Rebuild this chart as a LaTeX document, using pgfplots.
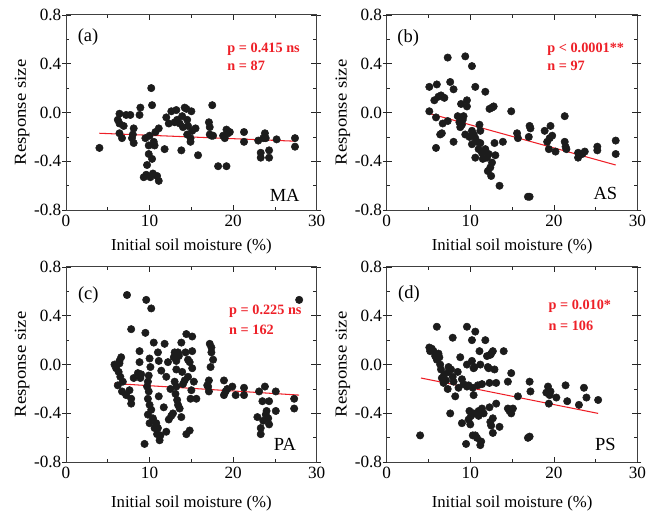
\documentclass[border=0pt]{standalone}
\usepackage{fontspec}
\setmainfont{Liberation Serif}
\usepackage{graphicx}
\usepackage{pgfplots}
\pgfplotsset{compat=1.18}
\definecolor{rred}{RGB}{238,32,40}
\definecolor{dot}{RGB}{28,28,28}
\pgfplotsset{
  panel/.style={
    scale only axis, width=190pt, height=148pt,
    xmin=0, xmax=30, ymin=-0.8, ymax=0.8,
    xtick={0,10,20,30}, minor xtick={5,15,25},
    ytick={-0.8,-0.4,0,0.4,0.8}, minor ytick={-0.6,-0.2,0.2,0.6},
    extra y ticks={-0.8,-0.4,0,0.4,0.8}, extra y tick labels={},
    extra y tick style={tick align=outside, major tick length=3pt},
    tick align=inside, major tick length=4pt, minor tick length=2.5pt,
    tick style={black!85, line width=0.5pt},
    axis line style={line width=0.7pt, black!75},
    /pgf/number format/assume math mode=true,
    yticklabel style={/pgf/number format/.cd, fixed, zerofill, precision=1},
    ticklabel style={font=\fontsize{13}{15}\selectfont},
    xlabel={Initial soil moisture (\%)},
    ylabel={\scalebox{1.12}[1]{Response size}},
    label style={font=\fontsize{12.7}{14}\selectfont},
    ylabel style={at={(axis description cs:-0.175,0.5)}, anchor=center},
    clip=false,
  },
  dots/.style={only marks, mark=*, mark size=2.8pt, mark options={fill=dot, draw=dot}},
  reg/.style={rred, line width=0.8pt, no marks},
}
\tikzset{
  ptxt/.style={font=\fontsize{10.8}{12}\selectfont\bfseries, text=rred, anchor=west, inner sep=0pt},
  ltxt/.style={font=\fontsize{14}{16}\selectfont, inner sep=0pt},
}
\begin{document}
\begin{tikzpicture}
% ---------------- (a) MA
\begin{axis}[panel, at={(0,0)}, anchor=south west,
  xlabel style={at={(axis description cs:0.5,-0.1875)}, anchor=center}]
\addplot[dots] coordinates {
(4.0,-0.29)(10.2,0.20)(10.3,0.06)(6.4,-0.01)(7.7,-0.02)(8.8,-0.02)(8.9,0.04)
(6.4,-0.09)(6.9,-0.11)(6.4,-0.17)(6.7,-0.21)(8.1,-0.13)(7.9,-0.21)(8.1,-0.25)
(9.5,-0.21)(9.9,-0.27)(10.5,-0.24)(9.9,-0.34)(9.7,-0.43)(9.3,-0.53)(10.1,-0.53)
(10.9,-0.52)(11.1,-0.56)(10.7,-0.16)(11.1,-0.13)(11.8,-0.30)(12.3,-0.09)(12.6,0.01)
(13.2,0.02)(13.3,-0.06)(13.6,-0.09)(13.8,-0.31)(14.2,0.04)(14.4,0.03)(15.0,0.01)
(14.5,-0.06)(14.6,-0.11)(14.5,-0.18)(14.9,-0.24)(15.1,-0.15)(15.5,-0.13)(15.8,-0.35)
(17.5,0.06)(17.1,-0.08)(17.2,-0.12)(17.4,-0.19)(17.6,-0.19)(18.2,-0.44)(19.2,-0.44)
(18.8,-0.19)(19.2,-0.14)(19.4,-0.17)(19.6,-0.16)(21.3,-0.16)(21.3,-0.24)(23.0,-0.23)
(23.3,-0.33)(23.3,-0.37)(23.8,-0.17)(23.9,-0.21)(24.3,-0.31)(24.3,-0.37)(25.2,-0.22)
(27.4,-0.21)(27.4,-0.28)(6.2,-0.06)(7.2,-0.02)(9.6,-0.51)(10.4,-0.50)(10.0,-0.19)
(10.6,-0.27)(13.0,-0.08)(14.0,-0.12)(14.9,-0.21)(19.0,-0.21)(10.3,-0.38)(8.0,-0.18)
(12.0,-0.04)(17.2,-0.18)(23.6,-0.21)(13.9,-0.03)
};
\addplot[reg] coordinates {(4.0,-0.17)(27.4,-0.235)};
\node[ltxt] at (rel axis cs:0.088,0.885) {(a)};
\node[ltxt] at (rel axis cs:0.872,0.078) {MA};
\node[ptxt] at (rel axis cs:0.643,0.826) {p = 0.415 ns};
\node[ptxt] at (rel axis cs:0.643,0.737) {n = 87};
\end{axis}
% ---------------- (b) AS
\begin{axis}[panel, at={(243pt,0)}, anchor=south west,
  xlabel style={at={(axis description cs:0.5,-0.1875)}, anchor=center}]
\addplot[dots] coordinates {
(5.1,0.21)(6.0,0.23)(5.1,0.01)(5.7,0.10)(6.2,0.13)(6.5,0.14)(5.9,-0.04)(5.9,-0.29)
(7.3,0.45)(7.6,0.25)(8.0,0.19)(6.7,-0.09)(7.3,-0.07)(6.6,-0.17)(6.4,-0.18)(8.0,-0.24)
(8.5,-0.03)(8.9,0.07)(9.0,-0.10)(9.2,-0.03)(9.4,0.46)(10.2,0.38)(10.6,0.21)(9.6,0.10)
(9.6,0.05)(9.4,-0.18)(10.2,-0.15)(10.2,-0.26)(10.4,-0.18)(10.6,-0.21)(11.1,-0.10)
(11.2,-0.15)(10.6,-0.37)(11.0,-0.30)(11.2,-0.25)(11.4,-0.33)(11.8,0.17)(11.8,-0.30)
(12.0,-0.37)(12.1,-0.48)(12.6,-0.41)(12.5,-0.52)(12.3,0.03)(12.8,0.05)(12.9,-0.25)
(13.0,-0.35)(13.5,-0.60)(13.9,-0.24)(14.9,0.01)(15.6,-0.17)(15.7,-0.21)(16.9,-0.69)
(17.1,-0.69)(17.1,-0.11)(17.2,-0.13)(17.0,-0.20)(18.9,-0.15)(19.6,-0.11)(19.5,-0.21)
(19.2,-0.24)(19.4,-0.30)(20.2,-0.32)(21.3,-0.03)(21.3,-0.24)(21.5,-0.30)(22.9,-0.33)
(22.9,-0.37)(23.7,-0.32)(25.2,-0.28)(25.2,-0.31)(27.4,-0.23)(27.4,-0.34)
(8.7,-0.08)(9.1,-0.06)(8.8,-0.12)(10.8,-0.24)(11.6,-0.32)(12.2,-0.34)(12.4,-0.45)
(11.5,-0.38)(9.9,-0.20)(6.9,0.12)(12.6,0.04)(19.8,-0.19)(21.4,-0.28)(23.4,-0.34)
};
\addplot[reg] coordinates {(5.2,-0.01)(27.4,-0.43)};
\node[ltxt] at (rel axis cs:0.086,0.88) {(b)};
\node[ltxt] at (rel axis cs:0.872,0.087) {AS};
\node[ptxt] at (rel axis cs:0.64,0.825) {p < 0.0001**};
\node[ptxt] at (rel axis cs:0.64,0.737) {n = 97};
\end{axis}
% ---------------- (c) PA
\begin{axis}[panel, at={(0,-191pt)}, anchor=south west,
  xlabel style={at={(axis description cs:0.5,-0.213)}, anchor=center}]
\addplot[dots] coordinates {
(7.3,0.57)(9.6,0.53)(10.2,0.46)(7.8,0.29)(9.5,0.26)(27.9,0.53)(5.8,0.0)(6.6,0.06)
(6.4,0.01)(6.3,-0.06)(6.5,-0.10)(6.2,-0.17)(6.7,-0.22)(7.6,-0.21)(7.8,-0.28)(7.8,-0.32)
(8.1,-0.11)(8.8,0.11)(8.8,0.02)(9.0,-0.08)(8.9,-0.11)(9.9,-0.09)(10.0,0.05)(10.1,-0.02)
(10.5,0.18)(11.0,0.10)(11.1,0.03)(9.7,-0.18)(9.8,-0.28)(10.0,-0.33)(9.8,-0.41)(10.0,-0.48)
(9.4,-0.65)(10.4,-0.44)(10.8,-0.48)(11.0,-0.52)(11.2,-0.62)(12.0,-0.55)(11.1,-0.26)
(11.8,0.17)(11.7,-0.35)(12.2,0.02)(12.0,-0.10)(12.3,-0.45)(12.8,-0.40)(13.0,0.10)
(13.2,0.03)(13.2,-0.04)(13.0,-0.14)(13.2,-0.18)(13.1,-0.24)(13.4,-0.33)(13.4,0.10)
(13.8,0.18)(13.8,-0.43)(14.2,-0.13)(14.3,0.10)(14.4,0.25)(14.6,0.04)(14.6,-0.10)
(14.4,-0.57)(14.8,-0.54)(14.9,-0.28)(15.1,0.23)(15.1,0.11)(15.1,-0.03)(15.3,-0.14)
(15.6,-0.28)(17.2,0.17)(17.4,0.10)(17.6,0.04)(17.3,-0.02)(17.1,-0.13)(17.1,-0.22)
(18.9,-0.13)(18.9,-0.25)(19.3,-0.20)(19.9,-0.18)(20.3,-0.25)(21.3,-0.19)(21.3,-0.25)
(22.9,-0.43)(23.1,-0.22)(23.3,-0.52)(23.3,-0.57)(23.5,-0.30)(23.8,-0.18)(23.9,-0.41)
(24.2,-0.44)(24.3,-0.49)(24.3,-0.30)(25.1,-0.22)(25.1,-0.38)(27.3,-0.28)(27.3,-0.36)
(6.0,-0.03)(6.8,-0.14)(7.2,-0.25)(9.9,-0.22)(10.2,-0.37)(10.6,-0.52)(10.9,-0.57)
(11.3,-0.58)(12.6,-0.42)(13.3,-0.29)(13.6,-0.36)(12.9,0.06)(13.5,0.07)(14.0,-0.16)
(15.0,-0.21)(17.4,0.14)(17.0,-0.18)(19.1,-0.22)(23.6,-0.46)(24.0,-0.38)(9.8,-0.14)
(8.6,-0.07)(6.4,0.03)(11.4,-0.05)(12.5,-0.20)(13.9,-0.06)(14.8,0.02)(16.9,-0.17)
};
\addplot[reg] coordinates {(5.8,-0.155)(27.9,-0.25)};
\node[ltxt] at (rel axis cs:0.089,0.858) {(c)};
\node[ltxt] at (rel axis cs:0.873,0.092) {PA};
\node[ptxt] at (rel axis cs:0.65,0.774) {p = 0.225 ns};
\node[ptxt] at (rel axis cs:0.65,0.68) {n = 162};
\end{axis}
% ---------------- (d) PS
\begin{axis}[panel, at={(243pt,-191pt)}, anchor=south west,
  xlabel style={at={(axis description cs:0.5,-0.213)}, anchor=center}]
\addplot[dots] coordinates {
(4.0,-0.58)(6.0,0.31)(5.1,0.14)(5.2,0.11)(5.6,0.11)(5.8,0.07)(6.2,0.09)(6.0,0.04)
(6.4,0.0)(6.5,-0.04)(6.6,-0.11)(6.8,-0.15)(7.4,-0.02)(7.4,-0.06)(7.3,-0.20)(7.6,-0.40)
(7.9,0.22)(7.9,-0.10)(8.2,-0.26)(8.5,-0.06)(8.8,0.06)(9.0,-0.12)(9.2,-0.16)(9.6,0.31)
(9.6,0.0)(9.6,-0.18)(9.0,-0.48)(9.5,-0.65)(9.9,-0.38)(10.0,-0.49)(10.2,0.20)(10.6,0.27)
(10.2,0.03)(10.4,-0.03)(10.3,-0.19)(10.4,-0.25)(10.4,-0.40)(10.3,-0.58)(11.0,-0.38)
(10.8,-0.60)(11.2,-0.66)(11.1,0.11)(11.2,0.0)(11.4,-0.16)(11.4,-0.36)(11.8,0.20)
(12.0,0.07)(12.1,-0.02)(12.4,0.08)(12.5,0.09)(12.7,0.11)(12.3,-0.15)(12.3,-0.35)
(12.4,-0.47)(12.7,-0.56)(12.7,-0.44)(12.9,-0.04)(13.1,-0.15)(13.1,-0.32)(13.5,-0.51)
(14.0,0.11)(14.5,-0.14)(14.9,-0.07)(14.5,-0.36)(14.9,-0.40)(15.1,-0.36)(15.7,-0.26)
(17.1,-0.14)(17.2,-0.22)(16.9,-0.60)(17.1,-0.59)(19.3,-0.18)(19.1,-0.23)(19.5,-0.25)
(19.4,-0.32)(20.3,-0.27)(21.4,-0.17)(21.6,-0.30)(23.0,-0.33)(23.6,-0.19)(23.9,-0.27)
(25.3,-0.29)(5.4,0.13)(6.3,0.06)(6.9,-0.08)(7.1,-0.13)(8.0,-0.14)(8.6,-0.19)(9.8,-0.45)
(10.1,-0.42)(10.6,-0.58)(11.0,-0.42)(11.6,-0.40)(12.5,-0.50)(10.5,-0.02)(9.8,-0.17)
(10.9,-0.17)(12.2,-0.03)(14.7,-0.38)(19.6,-0.22)(11.3,-0.63)(7.7,-0.04)
};
\addplot[reg] coordinates {(4.1,-0.11)(25.3,-0.40)};
\node[ltxt] at (rel axis cs:0.089,0.86) {(d)};
\node[ltxt] at (rel axis cs:0.872,0.089) {PS};
\node[ptxt] at (rel axis cs:0.645,0.796) {p = 0.010*};
\node[ptxt] at (rel axis cs:0.645,0.70) {n = 106};
\end{axis}
\pgfresetboundingbox
\useasboundingbox (-50pt,-228.5pt) rectangle (441pt,159.25pt);
\end{tikzpicture}
\end{document}
